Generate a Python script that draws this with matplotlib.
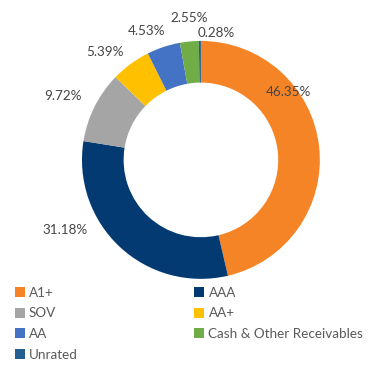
import matplotlib
matplotlib.use("Agg")
import matplotlib.pyplot as plt
from matplotlib.patches import Patch

plt.rcParams['font.family'] = ['Lato', 'DejaVu Sans']

# 评级分布
categories = ['A1+', 'AAA', 'SOV', 'AA+', 'AA', 'Cash & Other Receivables', 'Unrated']
values = [46.35, 31.18, 9.72, 5.39, 4.53, 2.55, 0.28]
colors = ['#F58426', '#043A72', '#A5A5A5', '#FFC000', '#4472C4', '#70AD47', '#255E91']
pct_labels = ['46.35%', '31.18%', '9.72%', '5.39%', '4.53%', '2.55%', '0.28%']
# 标签位置 (饼图坐标，半径=1)
label_pos = [(0.74, 0.57), (-1.14, -0.59), (-1.16, 0.54), (-0.81, 0.91),
             (-0.46, 1.08), (-0.10, 1.19), (0.13, 1.07)]

fig = plt.figure(figsize=(3.7, 3.9), dpi=100)
ax = fig.add_axes([0.093, 0.163, 0.9, 0.854])

ax.pie(values, colors=colors, startangle=90, counterclock=False, radius=1.0,
       wedgeprops=dict(width=0.35, edgecolor='none'))
ax.set_xlim(-1.4, 1.4)
ax.set_ylim(-1.4, 1.4)
ax.set_aspect('auto')

for txt, (x, y) in zip(pct_labels, label_pos):
    ax.text(x, y, txt, ha='center', va='center', fontsize=9.75,
            color='#454545')

# 图例 两列
handles = [Patch(facecolor=c, edgecolor='none') for c in colors]
left = [0, 2, 4, 6]
right = [1, 3, 5]
for idx, xpos in [(left, 0.04), (right, 0.525)]:
    fig.legend([handles[i] for i in idx], [categories[i] for i in idx],
               loc='upper left', bbox_to_anchor=(xpos, 0.265), frameon=False,
               fontsize=9.75, labelcolor='#595959', handlelength=0.75,
               handleheight=0.75, handletextpad=0.3, labelspacing=0.64,
               borderaxespad=0, borderpad=0)

fig.savefig('out.png', dpi=100)
